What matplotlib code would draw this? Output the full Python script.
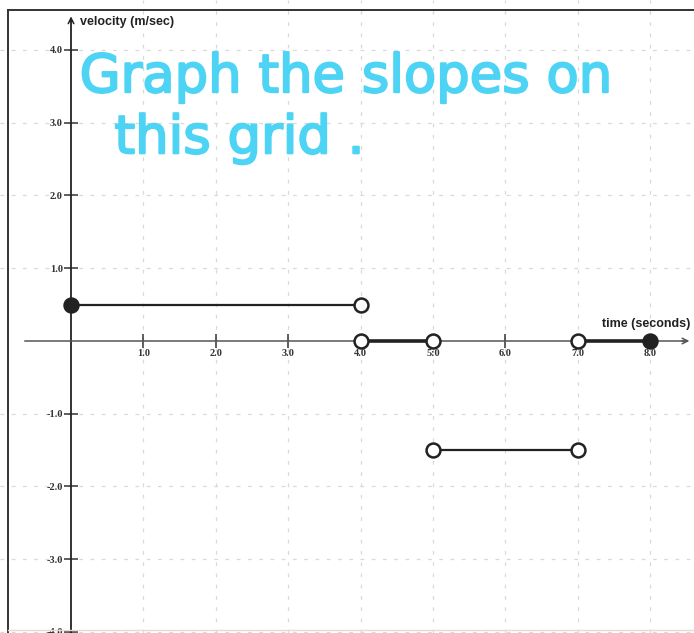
import matplotlib.pyplot as plt
import matplotlib.patheffects as pe
from matplotlib.lines import Line2D

# piecewise velocity segments: (t_start, t_end, v, start_filled, end_filled)
t_start = [0.0, 4.0, 5.0, 7.0]
t_end = [4.0, 5.0, 7.0, 8.0]
v_seg = [0.5, 0.0, -1.5, 0.0]
start_filled = [True, False, False, False]
end_filled = [False, False, False, True]

x_ticks = [1, 2, 3, 4, 5, 6, 7, 8]
x_labels = ["1.0", "2.0", "3.0", "4.0", "5:0", "6.0", "7.0", "8.0"]
y_ticks = [-4, -3, -2, -1, 1, 2, 3, 4]
y_labels = ["-4.0", "-3.0", "-2.0", "-1.0", "1.0", "2.0", "3.0", "4.0"]

fig = plt.figure(figsize=(6.94, 6.33), dpi=100)
ax = fig.add_axes([0, 0, 1, 1])
ax.set_xlim(-0.981, 8.605)
ax.set_ylim(-4.014, 4.687)

# axes through the origin
for s in ["top", "right"]:
    ax.spines[s].set_visible(False)
ax.spines["left"].set_position(("data", 0))
ax.spines["bottom"].set_position(("data", 0))
ax.spines["left"].set_bounds(-4.014, 4.40)
ax.spines["bottom"].set_bounds(-0.63, 8.5)
ax.spines["left"].set_linewidth(1.3)
ax.spines["bottom"].set_linewidth(1.1)
ax.spines["bottom"].set_color("#555555")
ax.spines["left"].set_color("#222222")

ax.annotate("", xy=(0, 4.50), xytext=(0, 4.35),
            arrowprops=dict(arrowstyle="->", lw=1.1, color="#222222"))
ax.annotate("", xy=(8.58, 0), xytext=(8.40, 0),
            arrowprops=dict(arrowstyle="->", lw=1.1, color="#555555"))

ax.set_xticks(x_ticks)
ax.set_xticklabels(x_labels)
ax.set_yticks(y_ticks)
ax.set_yticklabels(y_labels)
ax.tick_params(direction="inout", length=10, width=1.1, color="#333333",
               labelsize=7.5, labelcolor="#333333", pad=1)
for lab in ax.get_xticklabels() + ax.get_yticklabels():
    lab.set_fontfamily("Liberation Serif")
    lab.set_fontweight("bold")

ax.grid(True, color="#d9d9d9", linestyle=(0, (3, 6)), linewidth=0.9)

ax.text(0.12, 4.38, "velocity (m/sec)", fontsize=9, family="Liberation Sans",
        fontweight="bold", color="#222222", va="center", ha="left")
ax.text(7.33, 0.24, "time (seconds)", fontsize=9, family="Liberation Sans",
        fontweight="bold", color="#222222", va="center", ha="left")

# the segments and their end markers
for i in range(len(t_start)):
    lw = 2.6 if v_seg[i] == 0 else 1.6
    ax.plot([t_start[i], t_end[i]], [v_seg[i], v_seg[i]], color="#222222",
            lw=lw, solid_capstyle="round", zorder=4)
    for t, filled in [(t_start[i], start_filled[i]), (t_end[i], end_filled[i])]:
        ax.plot(t, v_seg[i], "o", ms=10, mew=1.8, mec="#222222",
                mfc="#222222" if filled else "white", zorder=5)

# note written over the grid
marker_pen = [pe.withStroke(linewidth=1.5, foreground="#4dd4f4")]
ax.text(0.12, 3.42, "Graph the slopes on", fontsize=38, family="DejaVu Sans",
        color="#4dd4f4", va="baseline", ha="left", zorder=6,
        path_effects=marker_pen)
ax.text(0.60, 2.58, "this grid .", fontsize=38, family="DejaVu Sans",
        color="#4dd4f4", va="baseline", ha="left", zorder=6,
        path_effects=marker_pen)

# page frame
fig.add_artist(Line2D([8 / 694, 8 / 694], [0, 1 - 10 / 633],
                      transform=fig.transFigure, color="#333333", lw=1.4))
fig.add_artist(Line2D([8 / 694, 1], [1 - 10 / 633, 1 - 10 / 633],
                      transform=fig.transFigure, color="#333333", lw=1.4))
fig.add_artist(Line2D([8 / 694, 1], [3 / 633, 3 / 633],
                      transform=fig.transFigure, color="#dddddd", lw=1.0))

fig.savefig("out.png", dpi=100)
